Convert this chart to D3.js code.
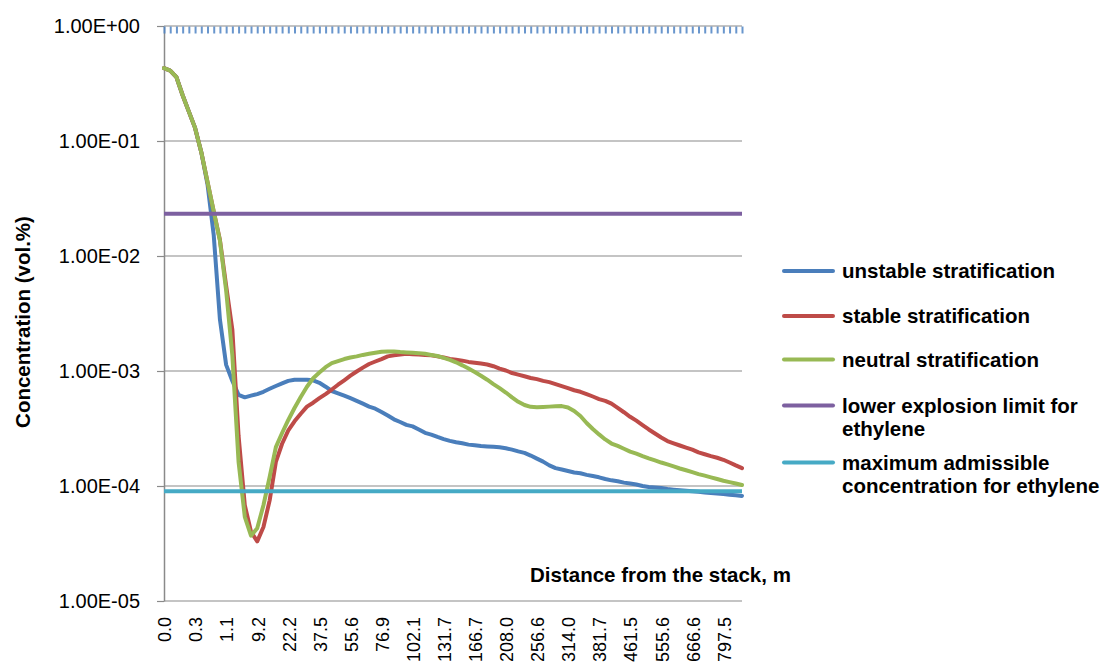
<!DOCTYPE html>
<html>
<head>
<meta charset="utf-8">
<script src="https://cdn.jsdelivr.net/npm/d3@7"></script>
<style>
  html, body { margin: 0; padding: 0; background: #ffffff; }
  svg { display: block; }
  text { font-family: "Liberation Sans", Arial, sans-serif; fill: #000; }
</style>
</head>
<body>
<svg id="chart" width="1108" height="669"></svg>
<script>
// ---------------- data ----------------
const distanceLabels = ["0.0","0.3","1.1","9.2","22.2","37.5","55.6","76.9","102.1","131.7",
  "166.7","208.0","256.6","314.0","381.7","461.5","555.6","666.6","797.5"];

const unstable = [0.43,0.41,0.36,0.25,0.18,0.13,0.08,0.042,0.0152,0.0028,
  0.00113,8.2e-4,6.2e-4,5.9e-4,6.1e-4,6.3e-4,6.6e-4,7.0e-4,7.4e-4,7.8e-4,
  8.2e-4,8.4e-4,8.4e-4,8.4e-4,8.3e-4,7.9e-4,7.3e-4,6.7e-4,6.4e-4,6.1e-4,
  5.8e-4,5.5e-4,5.2e-4,4.9e-4,4.7e-4,4.4e-4,4.1e-4,3.8e-4,3.6e-4,3.4e-4,
  3.3e-4,3.1e-4,2.9e-4,2.8e-4,2.67e-4,2.56e-4,2.47e-4,2.40e-4,2.35e-4,2.29e-4,
  2.26e-4,2.23e-4,2.21e-4,2.19e-4,2.17e-4,2.13e-4,2.07e-4,2.0e-4,1.94e-4,1.84e-4,
  1.73e-4,1.63e-4,1.51e-4,1.43e-4,1.39e-4,1.35e-4,1.31e-4,1.29e-4,1.25e-4,1.22e-4,
  1.19e-4,1.15e-4,1.12e-4,1.10e-4,1.07e-4,1.05e-4,1.03e-4,1.00e-4,9.8e-5,9.7e-5,
  9.6e-5,9.4e-5,9.3e-5,9.2e-5,9.1e-5,9.0e-5,8.9e-5,8.8e-5,8.7e-5,8.6e-5,
  8.5e-5,8.4e-5,8.3e-5,8.2e-5];

const stable = [0.43,0.41,0.36,0.25,0.18,0.13,0.08,0.044,0.0244,0.0138,
  5.5e-3,2.28e-3,2.72e-4,6.8e-5,4.0e-5,3.3e-5,4.4e-5,7.5e-5,1.62e-4,2.33e-4,
  3.04e-4,3.65e-4,4.25e-4,4.9e-4,5.3e-4,5.8e-4,6.3e-4,6.9e-4,7.6e-4,8.3e-4,
  9.1e-4,9.9e-4,1.07e-3,1.15e-3,1.21e-3,1.27e-3,1.34e-3,1.37e-3,1.39e-3,1.41e-3,
  1.40e-3,1.39e-3,1.38e-3,1.37e-3,1.34e-3,1.31e-3,1.27e-3,1.25e-3,1.23e-3,1.20e-3,
  1.18e-3,1.16e-3,1.14e-3,1.10e-3,1.05e-3,1.01e-3,9.6e-4,9.3e-4,9.0e-4,8.7e-4,
  8.5e-4,8.2e-4,8.0e-4,7.7e-4,7.4e-4,7.1e-4,6.8e-4,6.6e-4,6.3e-4,6.0e-4,
  5.7e-4,5.5e-4,5.2e-4,4.77e-4,4.38e-4,4.0e-4,3.7e-4,3.39e-4,3.1e-4,2.86e-4,
  2.64e-4,2.46e-4,2.35e-4,2.25e-4,2.16e-4,2.07e-4,1.96e-4,1.89e-4,1.82e-4,1.76e-4,
  1.69e-4,1.60e-4,1.51e-4,1.43e-4];

const neutral = [0.43,0.41,0.36,0.25,0.18,0.13,0.08,0.044,0.0244,0.0136,
  5.0e-3,1.36e-3,1.62e-4,5.4e-5,3.7e-5,4.3e-5,6.8e-5,1.2e-4,2.18e-4,2.89e-4,
  3.75e-4,4.77e-4,5.94e-4,7.3e-4,8.65e-4,9.7e-4,1.08e-3,1.17e-3,1.22e-3,1.27e-3,
  1.31e-3,1.34e-3,1.38e-3,1.41e-3,1.44e-3,1.47e-3,1.48e-3,1.48e-3,1.46e-3,1.45e-3,
  1.44e-3,1.43e-3,1.41e-3,1.38e-3,1.35e-3,1.30e-3,1.25e-3,1.19e-3,1.12e-3,1.05e-3,
  9.8e-4,9.1e-4,8.4e-4,7.7e-4,7.1e-4,6.5e-4,5.9e-4,5.4e-4,5.06e-4,4.88e-4,
  4.85e-4,4.87e-4,4.9e-4,4.93e-4,4.95e-4,4.82e-4,4.49e-4,4.06e-4,3.53e-4,3.13e-4,
  2.81e-4,2.54e-4,2.34e-4,2.23e-4,2.11e-4,1.99e-4,1.91e-4,1.82e-4,1.74e-4,1.67e-4,
  1.60e-4,1.54e-4,1.48e-4,1.42e-4,1.37e-4,1.32e-4,1.27e-4,1.23e-4,1.19e-4,1.15e-4,
  1.11e-4,1.08e-4,1.05e-4,1.02e-4];

const lowerExplosionLimit = 0.0233;
const maxAdmissible = 9.0e-5;

const yTickValues = [1e-5, 1e-4, 1e-3, 1e-2, 1e-1, 1];
const yTickLabels = ["1.00E-05","1.00E-04","1.00E-03","1.00E-02","1.00E-01","1.00E+00"];

const seriesNames = ["unstable stratification","stable stratification","neutral stratification",
  "lower explosion limit for|ethylene","maximum admissible|concentration for ethylene"];
const seriesColors = ["#4a7ebb","#be4b48","#98b954","#7d60a0","#46aac5"];

// ---------------- layout ----------------
const N = unstable.length;
const labelStep = 5;
const svg = d3.select("#chart");
const x = d3.scalePoint().domain(d3.range(N)).range([164, 742]);
const y = d3.scaleLog().domain([1e-5, 1]).range([601, 26]);

// gridlines
svg.append("g").selectAll("line").data(yTickValues).join("line")
  .attr("x1", 164).attr("x2", 742)
  .attr("y1", d => y(d)).attr("y2", d => y(d))
  .attr("stroke", "#8a8a8a").attr("stroke-width", 1.2);

// y axis
const yAxis = svg.append("g").attr("transform", "translate(164,0)")
  .call(d3.axisLeft(y).tickValues(yTickValues)
    .tickFormat((d, i) => yTickLabels[i]).tickSize(7).tickSizeOuter(0).tickPadding(17));
yAxis.select(".domain").attr("stroke", "#8a8a8a").attr("stroke-width", 1.5);
yAxis.selectAll(".tick line").attr("stroke", "#8a8a8a").attr("stroke-width", 1.2);
yAxis.selectAll(".tick text").attr("font-size", 20).attr("fill", "#000")
  .attr("font-family", "'Liberation Sans', Arial, sans-serif");

// category axis crossing at 1.0 (top) with tick marks
const xAxisTop = svg.append("g").attr("transform", `translate(0,${y(1) + 0.5})`)
  .call(d3.axisBottom(x).tickValues(d3.range(N)).tickFormat("").tickSize(7).tickSizeOuter(0));
xAxisTop.select(".domain").remove();
xAxisTop.selectAll(".tick line").attr("stroke", "#4f84c4").attr("stroke-width", 2)
  .attr("stroke-opacity", 0.85);

// category labels at the bottom
svg.append("g").selectAll("text").data(distanceLabels).join("text")
  .attr("transform", (d, i) => `translate(${x(i * labelStep) + 1},617) rotate(-90)`)
  .attr("text-anchor", "end").attr("dy", "0.35em")
  .attr("font-size", 18).text(d => d);

// series lines
const line = d3.line().x((d, i) => x(i)).y(d => y(d));
const allSeries = [unstable, stable, neutral];
svg.append("g").selectAll("path").data(allSeries).join("path")
  .attr("d", d => line(d)).attr("fill", "none")
  .attr("stroke", (d, i) => seriesColors[i]).attr("stroke-width", 4)
  .attr("stroke-linejoin", "round").attr("stroke-linecap", "round");

// constant reference lines
const refLines = [lowerExplosionLimit, maxAdmissible];
svg.append("g").selectAll("line").data(refLines).join("line")
  .attr("x1", x(0)).attr("x2", x(N - 1))
  .attr("y1", d => y(d)).attr("y2", d => y(d))
  .attr("stroke", (d, i) => seriesColors[3 + i]).attr("stroke-width", 4);

// axis titles
svg.append("text").attr("transform", "translate(23,322) rotate(-90)")
  .attr("text-anchor", "middle").attr("dy", "0.35em")
  .attr("font-size", 20.5).attr("font-weight", "bold").text("Concentration (vol.%)");
svg.append("text").attr("x", 530).attr("y", 582)
  .attr("font-size", 20.5).attr("font-weight", "bold").text("Distance from the stack, m");

// legend
const legendY = [271, 316, 359.5, 405.5, 462.5];
const lg = svg.append("g").selectAll("g").data(seriesNames).join("g")
  .attr("transform", (d, i) => `translate(0,${legendY[i]})`);
lg.append("line").attr("x1", 784).attr("x2", 833).attr("y1", 0).attr("y2", 0)
  .attr("stroke", (d, i) => seriesColors[i]).attr("stroke-width", 4).attr("stroke-linecap", "round");
lg.append("text").attr("x", 842).attr("font-size", 20.5).attr("font-weight", "bold")
  .each(function(d) {
    const parts = d.split("|");
    d3.select(this).selectAll("tspan").data(parts).join("tspan")
      .attr("x", 842).attr("y", (p, j) => j * 23.5).attr("dy", "0.35em").text(p => p);
  });
</script>
</body>
</html>
